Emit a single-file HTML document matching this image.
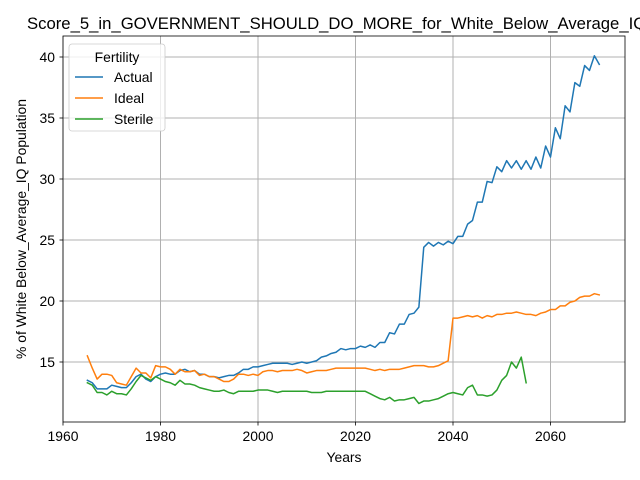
<!DOCTYPE html>
<html><head><meta charset="utf-8"><style>
html,body{margin:0;padding:0;background:#fff;overflow:hidden;width:640px;height:480px}
svg{display:block;font-family:"Liberation Sans","DejaVu Sans",sans-serif}
</style></head><body>
<svg id="chart" width="640" height="480"></svg>
<script>
const years = [];
for (let y = 1965; y <= 2070; y++) years.push(y);
const actual = [13.5,13.3,12.8,12.8,12.8,13.1,13.0,12.9,12.9,13.3,13.8,14.0,13.6,13.4,13.8,14.0,14.1,14.0,14.0,14.3,14.4,14.2,14.3,14.0,14.0,13.8,13.8,13.7,13.8,13.9,13.9,14.1,14.4,14.4,14.6,14.6,14.7,14.8,14.9,14.9,14.9,14.9,14.8,14.9,15.0,14.9,15.0,15.1,15.4,15.5,15.7,15.8,16.1,16.0,16.1,16.1,16.3,16.2,16.4,16.2,16.6,16.6,17.4,17.3,18.1,18.1,18.9,19.0,19.5,24.4,24.8,24.5,24.8,24.6,24.9,24.7,25.3,25.3,26.3,26.6,28.1,28.1,29.8,29.7,31.0,30.6,31.5,30.9,31.5,30.8,31.5,30.8,31.8,30.9,32.7,31.8,34.2,33.3,36.0,35.5,37.9,37.6,39.3,38.9,40.1,39.4];
const ideal = [15.5,14.5,13.6,14.0,14.0,13.9,13.3,13.2,13.1,13.8,14.5,14.1,14.1,13.7,14.7,14.6,14.6,14.4,14.0,14.4,14.2,14.2,14.3,13.9,14.0,13.8,13.8,13.6,13.4,13.4,13.6,14.0,14.0,13.9,14.0,13.9,14.2,14.3,14.3,14.2,14.3,14.3,14.3,14.4,14.3,14.1,14.2,14.3,14.3,14.3,14.4,14.5,14.5,14.5,14.5,14.5,14.5,14.5,14.4,14.3,14.4,14.3,14.4,14.4,14.4,14.5,14.6,14.7,14.7,14.7,14.6,14.6,14.7,14.9,15.1,18.6,18.6,18.7,18.8,18.7,18.8,18.6,18.8,18.7,18.9,18.9,19.0,19.0,19.1,19.0,18.9,18.9,18.8,19.0,19.1,19.3,19.3,19.6,19.6,19.9,20.0,20.3,20.4,20.4,20.6,20.5];
const sterile = [13.3,13.1,12.5,12.5,12.3,12.6,12.4,12.4,12.3,12.8,13.4,13.9,13.7,13.5,13.8,13.6,13.4,13.3,13.1,13.5,13.2,13.2,13.1,12.9,12.8,12.7,12.6,12.6,12.7,12.5,12.4,12.6,12.6,12.6,12.6,12.7,12.7,12.7,12.6,12.5,12.6,12.6,12.6,12.6,12.6,12.6,12.5,12.5,12.5,12.6,12.6,12.6,12.6,12.6,12.6,12.6,12.6,12.6,12.4,12.2,12.0,11.9,12.1,11.8,11.9,11.9,12.0,12.1,11.6,11.8,11.8,11.9,12.0,12.2,12.4,12.5,12.4,12.3,12.9,13.1,12.3,12.3,12.2,12.3,12.7,13.5,13.9,15.0,14.5,15.4,13.3];
const xTicks = [1960,1980,2000,2020,2040,2060];
const yTicks = [15,20,25,30,35,40];
const seriesNames = ["Actual","Ideal","Sterile"];
const colors = ["#1f77b4","#ff7f0e","#2ca02c"];

const L=63,R=625,T=36,B=422;
const xs = y => 63 + (y-1960)*4.875;
const ys = v => 362 - (v-15)*12.2;
const svg = document.getElementById('chart');
const NS='http://www.w3.org/2000/svg';
function mk(tag, attrs, parent){const e=document.createElementNS(NS,tag);for(const k in attrs)e.setAttribute(k,attrs[k]);(parent||svg).appendChild(e);return e;}

xTicks.forEach(t=>{
  const g=mk('line',{x1:xs(t),x2:xs(t),y1:T,y2:B,stroke:'#b0b0b0','stroke-width':1});
  
  
  const tk=mk('line',{x1:xs(t),x2:xs(t),y1:B,y2:B+3.5,stroke:'#000','stroke-width':0.8});
  
  
  const tx=mk('text',{x:xs(t),y:B+19,'text-anchor':'middle','font-size':'13.9px',fill:'#000'});
  tx.textContent=t;
  
  
});
yTicks.forEach(t=>{
  const g=mk('line',{x1:L,x2:R,y1:ys(t),y2:ys(t),stroke:'#b0b0b0','stroke-width':1});
  
  
  const tk=mk('line',{x1:L-3.5,x2:L,y1:ys(t),y2:ys(t),stroke:'#000','stroke-width':0.8});
  
  
  const tx=mk('text',{x:L-8,y:ys(t)+5,'text-anchor':'end','font-size':'13.9px',fill:'#000'});
  tx.textContent=t;
  
  
});

const allData=[actual,ideal,sterile];
allData.forEach((d,i)=>{
  const pts=d.map((v,j)=>xs(years[j]).toFixed(2)+','+ys(v).toFixed(2)).join(' ');
  const p=mk('polyline',{points:pts,fill:'none',stroke:colors[i],'stroke-width':1.5,'stroke-linejoin':'round','stroke-linecap':'square'});
  
  
});

const fr=mk('rect',{x:L,y:T,width:R-L,height:B-T,fill:'none',stroke:'#000','stroke-width':0.8});



const title=mk('text',{x:27,y:29,'font-size':'16.7px',fill:'#000'});
title.textContent='Score_5_in_GOVERNMENT_SHOULD_DO_MORE_for_White_Below_Average_IQ';


const xl=mk('text',{x:344,y:462,'text-anchor':'middle','font-size':'13.9px',fill:'#000'});
xl.textContent='Years';


const yl=mk('text',{x:0,y:0,'text-anchor':'middle','font-size':'13.9px',fill:'#000',transform:'translate(26,229) rotate(-90)'});
yl.textContent='% of White Below_Average_IQ Population';



const lg=mk('rect',{x:69,y:44,width:96,height:87,rx:3,fill:'#fff','fill-opacity':0.8,stroke:'#ccc','stroke-width':0.8});


const lt=mk('text',{x:117,y:62,'text-anchor':'middle','font-size':'13.9px',fill:'#000'});
lt.textContent='Fertility';


seriesNames.forEach((n,i)=>{
  const yy=77+i*21;
  const ln=mk('line',{x1:75,x2:103,y1:yy,y2:yy,stroke:colors[i],'stroke-width':1.5});
  
  
  const tx=mk('text',{x:114,y:yy+5,'font-size':'13.9px',fill:'#000'});
  tx.textContent=n;
  
  
});
</script>
</body></html>
